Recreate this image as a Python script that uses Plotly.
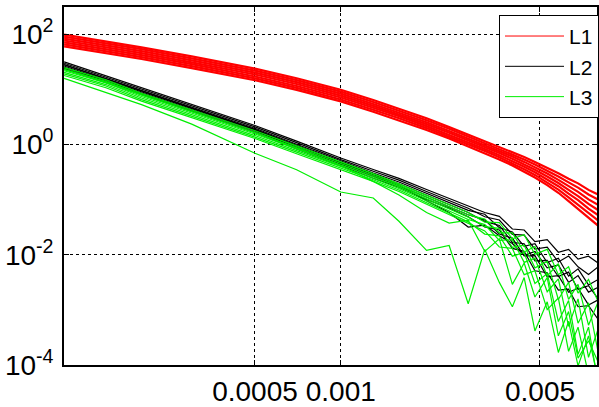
import plotly.graph_objects as go

# ---------------- data ----------------
X_GRID = [0.000107, 0.00015, 0.0002, 0.0003, 0.0005, 0.0007, 0.001, 0.0013, 0.0016, 0.002, 0.0024,
          0.0028, 0.0032, 0.0036, 0.004, 0.0044, 0.0048, 0.0053, 0.0058, 0.0063, 0.0068, 0.0074, 0.008]

L1_R1 = [98.0, 74.1, 57.8, 39.5, 23.7, 15.9, 9.82, 6.39, 4.49, 2.98, 2.08, 1.51, 1.15, 0.907,
         0.732, 0.592, 0.482, 0.379, 0.300, 0.239, 0.197, 0.150, 0.123]
L1_R2 = [90.4, 68.3, 53.4, 36.4, 21.8, 14.7, 9.06, 5.89, 4.14, 2.75, 1.92, 1.40, 1.06, 0.832,
         0.666, 0.536, 0.433, 0.336, 0.262, 0.205, 0.165, 0.124, 0.0995]
L1_R3 = [83.2, 62.9, 49.1, 33.5, 20.1, 13.5, 8.34, 5.43, 3.81, 2.53, 1.76, 1.28, 0.975, 0.760,
         0.605, 0.483, 0.388, 0.297, 0.228, 0.175, 0.138, 0.101, 0.0798]
L1_R4 = [76.8, 58.1, 45.3, 30.9, 18.6, 12.5, 7.70, 5.01, 3.52, 2.34, 1.63, 1.19, 0.900, 0.697,
         0.551, 0.437, 0.348, 0.263, 0.200, 0.150, 0.116, 0.0835, 0.0644]
L1_R5 = [70.9, 53.6, 41.8, 28.6, 17.1, 11.5, 7.10, 4.62, 3.25, 2.15, 1.50, 1.09, 0.830, 0.639,
         0.502, 0.395, 0.313, 0.233, 0.175, 0.128, 0.0974, 0.0688, 0.0520]
L1_R6 = [65.3, 49.3, 38.5, 26.3, 15.8, 10.6, 6.54, 4.25, 2.99, 1.98, 1.38, 1.01, 0.765, 0.584,
         0.455, 0.356, 0.280, 0.206, 0.152, 0.110, 0.0814, 0.0563, 0.0417]
L1_R7 = [60.2, 45.5, 35.5, 24.3, 14.6, 9.78, 6.03, 3.93, 2.76, 1.83, 1.28, 0.930, 0.706, 0.535,
         0.415, 0.322, 0.252, 0.183, 0.133, 0.0939, 0.0684, 0.0464, 0.0336]

L2_B1 = [31.5, 17.6, 10.7, 5.32, 2.21, 1.15, 0.567, 0.351, 0.242, 0.152, 0.105, 0.0760, 0.0584, 0.0497,
         0.0293, 0.0281, 0.0173, 0.0188, 0.0111, 0.0125, 0.00834, 0.00941, 0.00708]
L2_B2 = [29.7, 16.6, 10.1, 5.03, 2.08, 1.08, 0.531, 0.326, 0.225, 0.140, 0.0970, 0.0695, 0.0489, 0.0426,
         0.0233, 0.0226, 0.0127, 0.0137, 0.00738, 0.00948, 0.00603, 0.00439, 0.00603]
L2_B3 = [28.1, 15.7, 9.55, 4.75, 1.97, 1.01, 0.498, 0.303, 0.209, 0.129, 0.0895, 0.0637, 0.0543, 0.0310,
         0.0258, 0.0142, 0.0158, 0.00720, 0.00867, 0.00408, 0.00555, 0.00283, 0.00356]
L2_B4 = [26.5, 14.9, 9.02, 4.49, 1.86, 0.944, 0.466, 0.282, 0.194, 0.119, 0.0824, 0.0582, 0.0402, 0.0339,
         0.0167, 0.0158, 0.00774, 0.00787, 0.00402, 0.00484, 0.00237, 0.00274, 0.00158]
L2_B5 = [25.1, 14.0, 8.51, 4.24, 1.76, 0.885, 0.437, 0.262, 0.180, 0.110, 0.0760, 0.0532, 0.0429, 0.0237,
         0.0200, 0.00957, 0.00964, 0.00398, 0.00418, 0.00208, 0.00247, 0.00123, 0.00152]
L2_B6 = [23.7, 13.3, 8.05, 4.01, 1.66, 0.830, 0.410, 0.244, 0.168, 0.101, 0.0701, 0.0487, 0.0318, 0.0281,
         0.0130, 0.0115, 0.00512, 0.00472, 0.00228, 0.00237, 0.00114, 0.00119, 0.000673]
L2_B7 = [27.9, 15.5, 9.31, 4.58, 1.88, 0.960, 0.463, 0.273, 0.182, 0.0951, 0.0584, 0.0318, 0.0345, 0.0221,
         0.0160, 0.00980, 0.0115, 0.00578, 0.00653, 0.00315, 0.00418, 0.00210, 0.00257]

L3_G1 = [24.7, 14.9, 8.45, 4.22, 1.77, 0.941, 0.482, 0.296, 0.193, 0.119, 0.0792, 0.0584, 0.0389, 0.0381,
         0.0195, 0.0230, 0.0102, 0.0125, 0.00435, 0.00603, 0.00201, 0.00356, 0.00140]
L3_G2 = [23.1, 13.9, 7.92, 3.96, 1.65, 0.882, 0.452, 0.277, 0.181, 0.110, 0.0730, 0.0530, 0.0443, 0.0250,
         0.0249, 0.0112, 0.0141, 0.00415, 0.00686, 0.00155, 0.00290, 0.000527, 0.00140]
L3_G3 = [21.7, 13.0, 7.42, 3.71, 1.55, 0.826, 0.423, 0.260, 0.170, 0.103, 0.0673, 0.0481, 0.0323, 0.0301,
         0.0136, 0.0149, 0.00578, 0.00755, 0.00154, 0.00317, 0.000573, 0.00134, 0.000169]
L3_G4 = [20.3, 12.2, 6.95, 3.48, 1.45, 0.774, 0.396, 0.244, 0.159, 0.0955, 0.0621, 0.0436, 0.0353, 0.0182,
         0.0188, 0.00726, 0.00867, 0.00213, 0.00364, 0.000502, 0.00158, 0.000138, 0.000449]
L3_G5 = [19.0, 11.5, 6.52, 3.26, 1.36, 0.726, 0.372, 0.229, 0.149, 0.0887, 0.0573, 0.0395, 0.0237, 0.0220,
         0.00941, 0.0110, 0.00302, 0.00457, 0.000615, 0.00148, 0.000156, 0.000486, 0.0000462]
L3_G6 = [17.8, 10.7, 6.11, 3.05, 1.28, 0.680, 0.348, 0.214, 0.140, 0.0824, 0.0528, 0.0359, 0.0270, 0.0138,
         0.0130, 0.00435, 0.00512, 0.00101, 0.00164, 0.000177, 0.000486, 0.0000667, 0.0000817]
L3_GA = [15.8, 8.59, 5.28, 2.34, 0.694, 0.348, 0.137, 0.107, 0.0405, 0.0120, 0.0147, 0.00129, 0.0125, 0.00315,
         0.00114, 0.00385, 0.000414, 0.00140, 0.000169, 0.000621, 0.0000960, 0.000338, 0.0000544]
L3_GB = [22.7, 13.4, 7.92, 3.97, 1.63, 0.851, 0.410, 0.214, 0.121, 0.0584, 0.0374, 0.0422, 0.0115, 0.0195,
         0.00290, 0.00708, 0.00171, 0.00385, 0.000338, 0.000931, 0.000133, 0.000276, 0.000113]

RED_LINES = [L1_R1, L1_R2, L1_R3, L1_R4, L1_R5, L1_R6, L1_R7]
BLACK_LINES = [L2_B1, L2_B2, L2_B3, L2_B4, L2_B5, L2_B6, L2_B7]
GREEN_LINES = [L3_G1, L3_G2, L3_G3, L3_G4, L3_G5, L3_G6, L3_GA, L3_GB]

X_TICKS = [0.0005, 0.001, 0.005]
X_TICK_TEXT = ["0.0005", "0.001", "0.005"]
Y_TICKS = [1e-4, 1e-2, 1, 1e2]
Y_TICK_TEXT = ["10<sup>-4</sup>", "10<sup>-2</sup>", "10<sup>0</sup>", "10<sup>2</sup>"]

# ---------------- figure ----------------
fig = go.Figure()

groups = [
    ("L1", "#ff0000", RED_LINES, 2.2),
    ("L2", "#000000", BLACK_LINES, 1.2),
    ("L3", "#00ee00", GREEN_LINES, 1.2),
]
for name, color, lines, w in groups:
    for ys in lines:
        fig.add_trace(go.Scatter(
            x=X_GRID, y=ys, mode="lines", name=name, legendgroup=name,
            showlegend=False, line=dict(color=color, width=w),
            hoverinfo="skip"))
# legend entries (thin sample lines as in the reference)
for name, color, lines, w in groups:
    fig.add_trace(go.Scatter(
        x=[None], y=[None], mode="lines", name=name, legendgroup=name,
        showlegend=True, line=dict(color=color, width=1)))

FONT = "Liberation Sans, Arial, Helvetica, sans-serif"
axis_common = dict(
    type="log", showline=True, linecolor="black", linewidth=1.8, mirror="ticks",
    ticks="inside", ticklen=5, tickwidth=1, tickcolor="black",
    showgrid=True, gridcolor="black", gridwidth=1, griddash="dot",
    zeroline=False, tickfont=dict(family=FONT, size=28, color="black"),
)
fig.update_xaxes(range=[-3.971, -2.101], tickvals=X_TICKS, ticktext=X_TICK_TEXT, **axis_common)
fig.update_yaxes(range=[-4.0, 2.493], tickvals=Y_TICKS, ticktext=Y_TICK_TEXT,
                 ticklabelstandoff=3, **axis_common)

fig.update_layout(
    width=599, height=407,
    margin=dict(l=64, r=0, t=7, b=31),
    paper_bgcolor="white", plot_bgcolor="white",
    font=dict(family=FONT, color="black"),
    showlegend=True,
    legend=dict(
        x=1.004, y=0.978, xanchor="right", yanchor="top",
        bgcolor="white", bordercolor="black", borderwidth=1,
        font=dict(family=FONT, size=21, color="black"),
        itemwidth=59, tracegroupgap=0,
    ),
)

fig.write_html("out.html")
